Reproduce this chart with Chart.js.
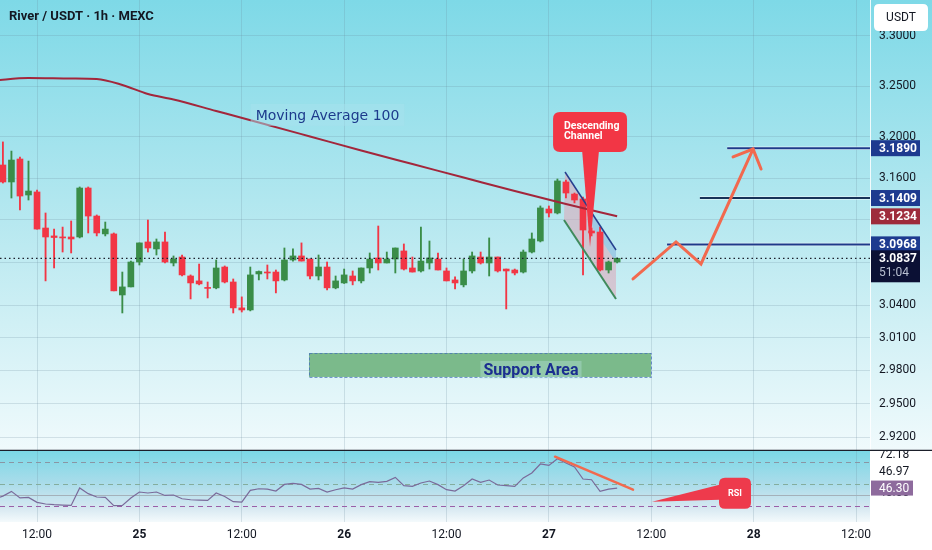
<!DOCTYPE html>
<html>
<head>
<meta charset="utf-8">
<script src="https://cdn.jsdelivr.net/npm/chart.js@4.4.1/dist/chart.umd.min.js"></script>
<style>
html,body{margin:0;padding:0;background:#fff;width:932px;height:550px;overflow:hidden}
#main{position:absolute;left:0;top:0}
#rsi{position:absolute;left:0;top:451px}
</style>
</head>
<body>
<canvas id="main" width="932" height="451"></canvas>
<canvas id="rsi" width="932" height="99"></canvas>
<script>
// ---------- DATA (hours counted from 24th 00:00, 1h candles) ----------
const firstHour = 8;
const opens  = [3.1727,3.1563,3.1785,3.1438,3.1467,3.1123,3.1048,3.1038,3.1038,3.1038,3.1505,3.1237,3.1067,3.1067,3.0494,3.0569,3.0802,3.0991,3.0925,3.0991,3.0793,3.0849,3.0671,3.0625,3.0560,3.0560,3.0755,3.0615,3.0374,3.0355,3.0690,3.0708,3.0708,3.0634,3.0821,3.0859,3.0830,3.0671,3.0755,3.0560,3.0606,3.0671,3.0625,3.0746,3.0840,3.0793,3.0830,3.0906,3.0746,3.0718,3.0793,3.0830,3.0718,3.0634,3.0588,3.0718,3.0849,3.0793,3.0849,3.0736,3.0727,3.0708,3.0896,3.1000,3.1304,3.1266,3.1563,3.1447,3.1400,3.1095,3.1085,3.0727,3.0802];
const highs  = [3.1951,3.1862,3.1804,3.1765,3.1486,3.1266,3.1113,3.1132,3.1190,3.1515,3.1515,3.1247,3.1180,3.1076,3.0708,3.0811,3.0982,3.1199,3.1019,3.1085,3.0859,3.0868,3.0681,3.0783,3.0615,3.0821,3.0765,3.0643,3.0476,3.0755,3.0718,3.0774,3.0727,3.0934,3.0925,3.0982,3.0830,3.0868,3.0802,3.0671,3.0736,3.0718,3.0746,3.0887,3.1142,3.0896,3.0934,3.0972,3.0849,3.1132,3.1000,3.0887,3.0746,3.0662,3.0830,3.0896,3.0896,3.1029,3.0849,3.0736,3.0736,3.0915,3.1076,3.1333,3.1333,3.1592,3.1582,3.1457,3.1419,3.1123,3.1132,3.0811,3.0840];
const lows   = [3.1553,3.1409,3.1295,3.1390,3.1113,3.0625,3.0746,3.0896,3.0887,3.1029,3.1076,3.1048,3.1048,3.0532,3.0327,3.0569,3.0774,3.0896,3.0868,3.0793,3.0765,3.0671,3.0457,3.0588,3.0466,3.0551,3.0606,3.0327,3.0336,3.0346,3.0634,3.0643,3.0513,3.0625,3.0811,3.0811,3.0643,3.0634,3.0541,3.0551,3.0601,3.0588,3.0606,3.0699,3.0727,3.0793,3.0699,3.0727,3.0708,3.0708,3.0736,3.0727,3.0625,3.0551,3.0569,3.0699,3.0783,3.0671,3.0708,3.0364,3.0681,3.0699,3.0887,3.0991,3.1228,3.1257,3.1409,3.1362,3.0681,3.1048,3.0718,3.0699,3.0793];
const closes = [3.1563,3.1775,3.1428,3.1476,3.1113,3.1038,3.1033,3.1029,3.1019,3.1505,3.1237,3.1076,3.1113,3.0532,3.0569,3.0802,3.0982,3.0934,3.0991,3.0802,3.0830,3.0681,3.0606,3.0597,3.0555,3.0746,3.0615,3.0374,3.0355,3.0681,3.0713,3.0699,3.0625,3.0821,3.0859,3.0811,3.0671,3.0755,3.0560,3.0625,3.0681,3.0625,3.0746,3.0830,3.0793,3.0830,3.0934,3.0736,3.0708,3.0811,3.0840,3.0727,3.0625,3.0606,3.0718,3.0859,3.0793,3.0849,3.0718,3.0718,3.0699,3.0896,3.1019,3.1314,3.1266,3.1573,3.1457,3.1390,3.1104,3.1076,3.0727,3.0802,3.0837];

const maHours  = [7,11,16,19,22,25,28,33,38,44,50,56,62,68,74,80];
const maValues = [3.2555,3.2580,3.2575,3.2570,3.2511,3.2421,3.2367,3.2254,3.2141,3.2004,3.1867,3.1736,3.1606,3.1476,3.1352,3.1234];

const rsiStart = 7;
const rsiValues = [36.5,39.0,43.3,37.3,37.8,33.3,31.8,31.2,30.8,30.5,
  46.4,41.2,38.2,37.8,30.3,30.5,37.3,42.7,41.8,42.7,
  39.6,40.0,36.6,35.7,35.4,35.1,41.8,38.7,33.9,33.6,
  44.2,45.7,45.4,43.6,49.6,50.5,49.6,45.4,46.0,42.7,
  44.8,46.4,45.4,49.4,52.1,51.5,52.4,56.0,48.5,47.8,
  50.9,52.7,49.4,44.8,43.6,48.5,54.5,51.5,53.6,49.1,
  48.5,47.8,55.5,60.0,68.2,66.9,73.0,69.1,65.5,54.5,
  53.9,43.3,45.4,46.3];
const rsiLevels = [70, 50, 30];
const rsiBase = 40;
const rsiSideLabels = ['72.18', '46.97', '40.00'];

const priceTicks = [3.30,3.25,3.20,3.16,3.12,3.08,3.04,3.01,2.98,2.95,2.92];
const timeTicks  = [12,24,36,48,60,72,84,96,108];
const targetPrices = [3.1890, 3.1409, 3.0968];
const targetStartHours = [92.9, 89.7, 85.85];

// axis windows
const xMin = 7.66, xMax = 109.64;
const yMin = 2.90857, yMax = 3.33643;
const rsiMin = 15.45, rsiMax = 80;

// ---------- drawings (data coordinates: [hour, price]) ----------
const zigzag = [[81.86,3.0643],[86.9,3.0991],[89.83,3.0784],[95.93,3.1882]];
const zigzagHead = [[93.59,3.1805],[95.93,3.1882],[96.87,3.1688]];
const channelUpper = [[73.89,3.1659],[79.87,3.0915]];
const channelLower = [[73.77,3.1199],[79.87,3.0456]];
const channelBlue = [[76.59,3.1323],[79.87,3.0915],[79.87,3.0802],[77.17,3.1123]];
const calloutBox = [72.49,3.2244,81.16,3.1853];
const calloutBase = [[75.89,3.1853],[77.88,3.1853]];
const calloutTip = [76.82,3.0944];
const calloutText = [['Descending',73.77,3.2106],['Channel',73.77,3.2009]];
const supportZone = [43.88,2.9959,83.97,2.9741];
const supportLabel = ['Support Area',69.9,2.9805];
const maLabel = ['Moving Average 100',46.05,3.2215];
const rsiTrend = [[72.72,74.8],[81.86,44.8]];
const rsiCalloutBox = [91.94,55.7,95.69,27.5];
const rsiCalloutBase = [[92.0,49.4],[92.0,35.7]];
const rsiCalloutTip = [84.09,33.9];

const GREEN = '#3a8d48', RED = '#f23645', NAVY = '#1d3a8f';
const gridColor = 'rgba(105,135,155,0.22)';
const FONT = 'Roboto, "Liberation Sans", sans-serif';
Chart.defaults.font.family = FONT;
Chart.defaults.color = '#131722';

function rr(ctx, x, y, w, h, r) {
  ctx.beginPath();
  ctx.moveTo(x + r, y); ctx.lineTo(x + w - r, y); ctx.quadraticCurveTo(x + w, y, x + w, y + r);
  ctx.lineTo(x + w, y + h - r); ctx.quadraticCurveTo(x + w, y + h, x + w - r, y + h);
  ctx.lineTo(x + r, y + h); ctx.quadraticCurveTo(x, y + h, x, y + h - r);
  ctx.lineTo(x, y + r); ctx.quadraticCurveTo(x, y, x + r, y); ctx.closePath();
}
function mapper(chart) {
  const sx = chart.scales.x, sy = chart.scales.y;
  return (pt) => [sx.getPixelForValue(pt[0]), sy.getPixelForValue(pt[1])];
}
function poly(ctx, pts) {
  ctx.beginPath(); pts.forEach((p, i) => i ? ctx.lineTo(p[0], p[1]) : ctx.moveTo(p[0], p[1]));
}

const hours = opens.map((_, i) => firstHour + i);
const candleColors = closes.map((c, i) => c >= opens[i] ? GREEN : RED);
const lastPrice = closes[closes.length - 1];
const lastMA = maValues[maValues.length - 1];

const mainPlugin = {
  id: 'mainDecor',
  beforeDraw(chart) {
    const {ctx, width, height} = chart;
    const g = ctx.createLinearGradient(0, 0, 0, 450);
    g.addColorStop(0, '#7ed9e7');
    g.addColorStop(0.55, '#bdeaf1');
    g.addColorStop(1, '#f0fafc');
    ctx.save(); ctx.fillStyle = g; ctx.fillRect(0, 0, width, height); ctx.restore();
  },
  beforeDatasetsDraw(chart) {
    const ctx = chart.ctx, P = mapper(chart);
    ctx.save();
    const a = P([supportZone[0], supportZone[1]]), b = P([supportZone[2], supportZone[3]]);
    ctx.fillStyle = '#7bba8b';
    ctx.fillRect(a[0], a[1], b[0] - a[0], b[1] - a[1]);
    ctx.setLineDash([3, 2]); ctx.strokeStyle = 'rgba(70,110,190,0.75)'; ctx.lineWidth = 1;
    ctx.strokeRect(a[0] + 0.5, a[1] + 0.5, b[0] - a[0], b[1] - a[1]);
    ctx.setLineDash([]);
    poly(ctx, [P(channelUpper[0]), P(channelUpper[1]), P(channelLower[1]), P(channelLower[0])]);
    ctx.closePath(); ctx.fillStyle = 'rgba(222,165,182,0.55)'; ctx.fill();
    poly(ctx, channelBlue.map(P)); ctx.closePath();
    ctx.fillStyle = 'rgba(140,205,235,0.75)'; ctx.fill();
    ctx.restore();
  },
  afterDatasetsDraw(chart) {
    const ctx = chart.ctx, P = mapper(chart), area = chart.chartArea;
    ctx.save();
    ctx.lineWidth = 1.5; ctx.strokeStyle = '#26408f';
    poly(ctx, channelUpper.map(P)); ctx.stroke();
    ctx.lineWidth = 2; ctx.strokeStyle = '#3f8a5c';
    poly(ctx, channelLower.map(P)); ctx.stroke();
    targetPrices.forEach((p, i) => {
      const s = P([targetStartHours[i], p]);
      ctx.strokeStyle = 'rgba(255,255,255,0.6)'; ctx.lineWidth = 3.5;
      ctx.beginPath(); ctx.moveTo(s[0], s[1]); ctx.lineTo(area.right, s[1]); ctx.stroke();
      ctx.strokeStyle = i === 1 ? '#173258' : '#1e3a8a'; ctx.lineWidth = 2;
      ctx.beginPath(); ctx.moveTo(s[0], s[1]); ctx.lineTo(area.right, s[1]); ctx.stroke();
    });
    ctx.strokeStyle = '#f2694e'; ctx.lineWidth = 3; ctx.lineCap = 'round'; ctx.lineJoin = 'miter';
    poly(ctx, zigzag.map(P)); ctx.stroke();
    poly(ctx, zigzagHead.map(P)); ctx.stroke();
    const b0 = P([calloutBox[0], calloutBox[1]]), b1 = P([calloutBox[2], calloutBox[3]]);
    ctx.fillStyle = '#f23645';
    rr(ctx, b0[0], b0[1], b1[0] - b0[0], b1[1] - b0[1], 7); ctx.fill();
    const t = P(calloutTip), q0 = P(calloutBase[0]), q1 = P(calloutBase[1]);
    ctx.beginPath(); ctx.moveTo(q0[0], q0[1] - 2); ctx.lineTo(t[0], t[1]); ctx.lineTo(q1[0], q1[1] - 2); ctx.closePath(); ctx.fill();
    ctx.fillStyle = '#ffffff'; ctx.font = 'bold 10.5px ' + FONT; ctx.textBaseline = 'middle'; ctx.textAlign = 'left';
    calloutText.forEach(tx => { const p = P([tx[1], tx[2]]); ctx.fillText(tx[0], p[0], p[1]); });
    const sl = P([supportLabel[1], supportLabel[2]]);
    ctx.font = 'bold 16px ' + FONT;
    const sw = ctx.measureText(supportLabel[0]).width;
    ctx.fillStyle = 'rgba(190,228,232,0.35)';
    ctx.fillRect(sl[0] - sw / 2 - 3, sl[1] - 9, sw + 6, 18);
    ctx.fillStyle = '#1b2e90'; ctx.textAlign = 'center';
    ctx.fillText(supportLabel[0], sl[0], sl[1] + 1);
    const ml = P([maLabel[1], maLabel[2]]);
    ctx.font = '14px "DejaVu Sans", ' + FONT;
    const mw = ctx.measureText(maLabel[0]).width;
    ctx.fillStyle = 'rgba(168,226,237,0.5)';
    ctx.fillRect(ml[0] - mw / 2 - 5, ml[1] - 11, mw + 10, 22);
    ctx.fillStyle = '#1d3a8c';
    ctx.fillText(maLabel[0], ml[0], ml[1] + 1);
    ctx.restore();
  },
  afterDraw(chart) {
    const ctx = chart.ctx, sy = chart.scales.y, area = chart.chartArea;
    ctx.save();
    ctx.fillStyle = '#131722'; ctx.font = 'bold 13px ' + FONT; ctx.textBaseline = 'middle'; ctx.textAlign = 'left';
    ctx.fillText('River / USDT · 1h · MEXC', 9, 17);
    const labels = [
      {v: targetPrices[0], bg: NAVY}, {v: targetPrices[1], bg: NAVY},
      {v: lastMA, bg: '#9e2b3b'}, {v: targetPrices[2], bg: NAVY}
    ];
    ctx.font = 'bold 12px ' + FONT;
    labels.forEach(l => {
      const y = sy.getPixelForValue(l.v);
      ctx.fillStyle = l.bg; ctx.fillRect(871, y - 8, 49, 16);
      ctx.fillStyle = '#ffffff'; ctx.fillText(l.v.toFixed(4), 879, y + 0.5);
    });
    const ly = sy.getPixelForValue(lastPrice);
    ctx.fillStyle = '#0b1034'; ctx.fillRect(871, ly - 8, 49, 32);
    ctx.fillStyle = '#ffffff'; ctx.fillText(lastPrice.toFixed(4), 879, ly + 0.5);
    ctx.fillStyle = '#b8bfd0'; ctx.font = '12px ' + FONT; ctx.fillText('51:04', 879, ly + 15);
    ctx.fillStyle = '#ffffff'; rr(ctx, 874, 4, 54, 27, 5); ctx.fill();
    ctx.fillStyle = '#131722'; ctx.font = '12px ' + FONT; ctx.textAlign = 'center';
    ctx.fillText('USDT', 901, 17.5);
    ctx.strokeStyle = '#1b1f2a'; ctx.lineWidth = 1.5;
    ctx.beginPath(); ctx.moveTo(0, area.bottom + 0.5); ctx.lineTo(chart.width, area.bottom + 0.5); ctx.stroke();
    ctx.restore();
  }
};

new Chart(document.getElementById('main'), {
  type: 'bar',
  data: {
    datasets: [
      {type: 'line', label: 'Last', data: [{x: xMin, y: lastPrice}, {x: xMax, y: lastPrice}],
        borderColor: '#1b202c', borderWidth: 1.3, borderDash: [1.5, 3], pointRadius: 0, order: 0},
      {type: 'line', label: 'MA 100', data: maHours.map((h, i) => ({x: h, y: maValues[i]})),
        borderColor: '#a3263b', borderWidth: 2, pointRadius: 0, cubicInterpolationMode: 'monotone', order: 1},
      {type: 'bar', label: 'Body', data: hours.map((h, i) => ({x: h, y: [opens[i], closes[i]]})),
        backgroundColor: candleColors, barThickness: 6, minBarLength: 1, grouped: false, borderWidth: 0, order: 2},
      {type: 'bar', label: 'Wick', data: hours.map((h, i) => ({x: h, y: [lows[i], highs[i]]})),
        backgroundColor: candleColors, barThickness: 1.2, grouped: false, borderWidth: 0, order: 3}
    ]
  },
  options: {
    responsive: false, animation: false, devicePixelRatio: window.devicePixelRatio || 1,
    layout: {padding: {top: 0, right: 0, bottom: 1, left: 0}},
    plugins: {legend: {display: false}, tooltip: {enabled: false}},
    scales: {
      x: {type: 'linear', min: xMin, max: xMax, offset: false,
        afterBuildTicks: s => { s.ticks = timeTicks.map(v => ({value: v})); },
        afterFit: s => { s.height = 0; },
        ticks: {display: false}, grid: {color: gridColor, drawTicks: false, offset: false}, border: {display: false}},
      y: {type: 'logarithmic', position: 'right', min: yMin, max: yMax,
        afterBuildTicks: s => { s.ticks = priceTicks.map(v => ({value: v})); },
        afterFit: s => { s.width = 62; s.paddingTop = 0; s.paddingBottom = 0; },
        ticks: {autoSkip: false, padding: 9, color: '#131722', font: {size: 12}, callback: v => Number(v).toFixed(4)},
        grid: {color: gridColor, drawTicks: false}, border: {display: true, color: 'rgba(255,255,255,0.85)'}}
    }
  },
  plugins: [mainPlugin]
});

const rsiPlugin = {
  id: 'rsiDecor',
  beforeDraw(chart) {
    const {ctx, width, height, chartArea: a} = chart;
    ctx.save();
    ctx.fillStyle = '#ffffff'; ctx.fillRect(0, 0, width, height);
    const g = ctx.createLinearGradient(0, a.top, 0, a.bottom);
    g.addColorStop(0, '#7bd8e6'); g.addColorStop(0.45, '#a9dcea'); g.addColorStop(0.8, '#d6e8f1'); g.addColorStop(1, '#f4fafc');
    ctx.fillStyle = g; ctx.fillRect(a.left, a.top, a.right - a.left, a.bottom - a.top);
    ctx.restore();
  },
  beforeDatasetsDraw(chart) {
    const ctx = chart.ctx, sy = chart.scales.y, a = chart.chartArea;
    ctx.save(); ctx.lineWidth = 1;
    const cols = ['#8a95a3', '#84ad9d', '#9a5fa8'];
    rsiLevels.forEach((lv, i) => {
      const y = Math.round(sy.getPixelForValue(lv)) + 0.5;
      ctx.strokeStyle = cols[i]; ctx.setLineDash([5, 4]);
      ctx.beginPath(); ctx.moveTo(a.left, y); ctx.lineTo(a.right, y); ctx.stroke();
    });
    ctx.setLineDash([]); ctx.strokeStyle = '#a4b1ba';
    const yb = Math.round(sy.getPixelForValue(rsiBase)) + 0.5;
    ctx.beginPath(); ctx.moveTo(a.left, yb); ctx.lineTo(a.right, yb); ctx.stroke();
    ctx.restore();
  },
  afterDatasetsDraw(chart) {
    const ctx = chart.ctx, P = mapper(chart);
    ctx.save();
    ctx.strokeStyle = '#f2694e'; ctx.lineWidth = 2.5; ctx.lineCap = 'round';
    poly(ctx, rsiTrend.map(P)); ctx.stroke();
    ctx.fillStyle = '#ee3a4c';
    const b0 = P([rsiCalloutBox[0], rsiCalloutBox[1]]), b1 = P([rsiCalloutBox[2], rsiCalloutBox[3]]);
    rr(ctx, b0[0], b0[1], b1[0] - b0[0], b1[1] - b0[1], 6); ctx.fill();
    const t = P(rsiCalloutTip), q0 = P(rsiCalloutBase[0]), q1 = P(rsiCalloutBase[1]);
    ctx.beginPath(); ctx.moveTo(q0[0], q0[1]); ctx.lineTo(t[0], t[1]); ctx.lineTo(q1[0], q1[1]); ctx.closePath(); ctx.fill();
    ctx.fillStyle = '#ffffff'; ctx.font = 'bold 9px ' + FONT; ctx.textAlign = 'center'; ctx.textBaseline = 'middle';
    ctx.fillText('RSI', (b0[0] + b1[0]) / 2, (b0[1] + b1[1]) / 2 + 1);
    ctx.restore();
  },
  afterDraw(chart) {
    const ctx = chart.ctx, sy = chart.scales.y;
    ctx.save();
    ctx.font = '12px ' + FONT; ctx.textAlign = 'left'; ctx.textBaseline = 'middle'; ctx.fillStyle = '#131722';
    ctx.fillText(rsiSideLabels[0], 879, 4);
    ctx.fillText(rsiSideLabels[1], 879, 21);
    ctx.fillText(rsiSideLabels[2], 879, 42);
    const cur = rsiValues[rsiValues.length - 1];
    const y = sy.getPixelForValue(cur);
    ctx.fillStyle = '#8e6b9d'; ctx.fillRect(871, y - 7.5, 42, 15);
    ctx.fillStyle = '#ffffff'; ctx.fillText(cur.toFixed(2), 879, y + 0.5);
    ctx.restore();
  }
};

new Chart(document.getElementById('rsi'), {
  type: 'line',
  data: {
    datasets: [{label: 'RSI', data: rsiValues.map((v, i) => ({x: rsiStart + i, y: v})),
      borderColor: '#7a6a9a', borderWidth: 1.2, pointRadius: 0, tension: 0}]
  },
  options: {
    responsive: false, animation: false, devicePixelRatio: window.devicePixelRatio || 1,
    layout: {padding: {top: 0, right: 0, bottom: 8, left: 0}},
    plugins: {legend: {display: false}, tooltip: {enabled: false}},
    scales: {
      x: {type: 'linear', min: xMin, max: xMax, offset: false,
        afterBuildTicks: s => { s.ticks = timeTicks.map(v => ({value: v})); },
        afterFit: s => { s.height = 20; },
        ticks: {autoSkip: false, maxRotation: 0, padding: 6, color: '#131722',
          font: c => ({family: FONT, size: 12, weight: (c.tick && c.tick.value % 24 === 0) ? 'bold' : 'normal'}),
          callback: v => (v % 24 === 0 ? String(24 + v / 24) : '12:00')},
        grid: {color: gridColor, drawTicks: false}, border: {display: false}},
      y: {position: 'right', min: rsiMin, max: rsiMax,
        afterFit: s => { s.width = 62; s.paddingTop = 0; s.paddingBottom = 0; },
        ticks: {display: false}, grid: {display: false}, border: {display: false}}
    }
  },
  plugins: [rsiPlugin]
});
</script>
</body>
</html>
